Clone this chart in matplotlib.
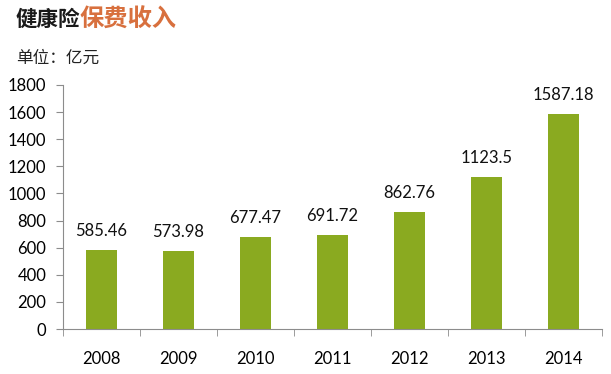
import matplotlib.pyplot as plt
import numpy as np

years = ["2008", "2009", "2010", "2011", "2012", "2013", "2014"]
premium = [585.46, 573.98, 677.47, 691.72, 862.76, 1123.5, 1587.18]
value_labels = ["585.46", "573.98", "677.47", "691.72", "862.76", "1123.5", "1587.18"]
yticks = [0, 200, 400, 600, 800, 1000, 1200, 1400, 1600, 1800]

plt.rcParams['font.family'] = ['Lato', 'Noto Sans CJK SC', 'DejaVu Sans']

fig = plt.figure(figsize=(6.11, 3.74), dpi=100)
ax = fig.add_axes([0.103, 0.12, 0.882, 0.653])

x = np.arange(len(years))
ax.bar(x, premium, width=0.4, color="#8aaa20", zorder=2)
for xi, v, lab in zip(x, premium, value_labels):
    ax.annotate(lab, (xi, v), xytext=(0, 8), textcoords="offset points",
                ha="center", va="bottom", fontsize=12, color="#111111")

ax.set_xlim(-0.5, len(years) - 0.5)
ax.set_ylim(0, 1800)
ax.set_yticks(yticks)
ax.set_yticklabels([str(t) for t in yticks], fontsize=12)
ax.set_xticks(x)
ax.set_xticklabels(years, fontsize=12)
ax.tick_params(axis="x", length=0, pad=16)
ax.set_xticks(np.arange(len(years) + 1) - 0.5, minor=True)
ax.tick_params(axis="x", which="minor", length=5, color="#8c8c8c", direction="out")
ax.tick_params(axis="y", length=5, color="#8c8c8c", pad=7)

for s in ["top", "right"]:
    ax.spines[s].set_visible(False)
for s in ["left", "bottom"]:
    ax.spines[s].set_color("#8c8c8c")

fig.text(0.026, 0.948, "健康险", fontsize=15.5, fontweight="bold",
         family=["Noto Sans CJK SC"], color="#1a1a1a", va="center")
fig.text(0.131, 0.948, "保费收入", fontsize=17.5, fontweight="bold",
         family=["Noto Sans CJK SC"], color="#d8703e", va="center")
fig.text(0.026, 0.845, "单位：亿元", fontsize=12, family=["Noto Sans CJK SC"],
         color="#222222", va="center")

fig.savefig("out.png", dpi=100, facecolor="white")
